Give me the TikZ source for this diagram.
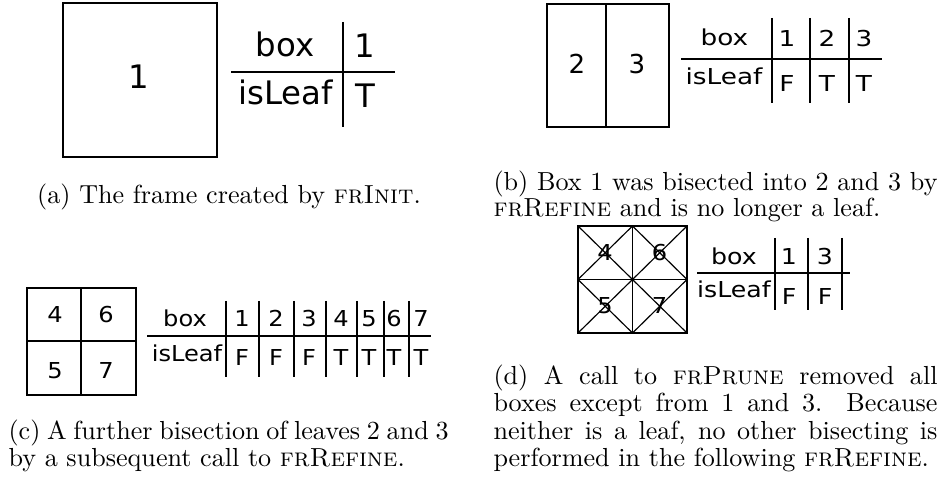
\documentclass[tikz,border=0pt]{standalone}
\usepackage{fontspec}
\usepackage{graphicx}
\newfontfamily\dvs{DejaVu Sans}
% horizontally widened label text
\newcommand\wide[2]{\scalebox{#1}[1]{#2}}

\begin{document}
\begin{tikzpicture}[x=0.3831pt,y=-0.3831pt,
  frame/.style={line width=0.75pt},
  rule/.style={line width=0.75pt},
  cross/.style={line width=0.45pt},
  lbl/.style={anchor=base,inner sep=0pt},
  fa/.style={font=\dvs\fontsize{12.4}{14}\selectfont},
  fbb/.style={font=\dvs\fontsize{10}{12}\selectfont},
  fs/.style={font=\dvs\fontsize{8.4}{10}\selectfont},
  capw/.style={anchor=base west,inner sep=0pt,font=\fontsize{10}{12}\selectfont},
  capc/.style={anchor=base,inner sep=0pt,font=\fontsize{10}{12}\selectfont}]
\useasboundingbox (0,0) rectangle (938,485);

% ---------- (a) initial frame ----------
\draw[frame] (63,3) rectangle (217,157);
\node[lbl,fa] (a1) at (139,89) {1};
\draw[rule] (231,72) -- (395,72);
\draw[rule] (343,22) -- (343,127);
\node[lbl,fa] (aboxh) at (285,57) {box};
\node[lbl,fa] (aleafh) at (285.5,105) {isLeaf};
\node[lbl,fa] (ab1) at (365,58) {1};
\node[lbl,fa] (al1) at (365,108) {T};
\node[capc] (capa) at (229,203.5) {(a) The frame created by \textsc{frInit}.};

% ---------- (b) first bisection ----------
\draw[frame] (547,4) rectangle (669,127);
\draw[frame] (606,4) -- (606,127);
\node[lbl,fbb] (b2) at (577,74) {2};
\node[lbl,fbb] (b3) at (637,74) {3};
\draw[rule] (681,59) -- (882,59);
\foreach \x in {772,810,849} \draw[rule] (\x,18) -- (\x,103);
\node[lbl,fs] (bboxh) at (724.5,46) {\wide{1.2}{box}};
\node[lbl,fs] (bleafh) at (724,85) {\wide{1.2}{isLeaf}};
\node[lbl,fs] (bb1) at (787,47) {\wide{1.2}{1}};
\node[lbl,fs] (bb2) at (827,47) {\wide{1.2}{2}};
\node[lbl,fs] (bb3) at (864,47) {\wide{1.2}{3}};
\node[lbl,fs] (bl1) at (787,92) {\wide{1.2}{F}};
\node[lbl,fs] (bl2) at (827,92) {\wide{1.2}{T}};
\node[lbl,fs] (bl3) at (864,92) {\wide{1.2}{T}};
\node[capw] (capb1) at (493,191) {\makebox[170.1pt][s]{(b) Box 1 was bisected into 2 and 3 by}};
\node[capw] (capb2) at (493,217) {\textsc{frRefine} and is no longer a leaf.};

% ---------- (c) second bisection ----------
\draw[frame] (27,288) rectangle (136,395);
\draw[frame] (81,288) -- (81,395);
\draw[frame] (26,341) -- (136,341);
\node[lbl,fs] (c4) at (55,323) {\wide{1.1}{4}};
\node[lbl,fs] (c6) at (106,323) {\wide{1.1}{6}};
\node[lbl,fs] (c5) at (55,378) {\wide{1.1}{5}};
\node[lbl,fs] (c7) at (106,378) {\wide{1.1}{7}};
\draw[rule] (147,336) -- (431,336);
\foreach \x in {226,259,294,326,357,384,409} \draw[rule] (\x,301) -- (\x,377);
\node[lbl,fs] (cboxh) at (185,327) {\wide{1.1}{box}};
\node[lbl,fs] (cleafh) at (187,361.5) {\wide{1.1}{isLeaf}};
\foreach \x/\v/\l [count=\i] in {242/1/F,276/2/F,309/3/F,341/4/T,369/5/T,394/6/T,421/7/T}{
  \node[lbl,fs] (cb\i) at (\x,327) {\wide{1.1}{\v}};
  \node[lbl,fs] (cl\i) at (\x,365) {\wide{1.1}{\l}};
}
\node[capw] (capc1) at (8,439) {\makebox[168.6pt][s]{(c) A further bisection of leaves 2 and 3}};
\node[capw] (capc2) at (8,466.5) {by a subsequent call to \textsc{frRefine}.};

% ---------- (d) after pruning ----------
\draw[frame] (578,226) rectangle (687,333);
\draw[frame] (632.5,226) -- (632.5,333);
\draw[frame] (578,279.5) -- (687,279.5);
\foreach \xa/\xb in {578/632.5,632.5/687}
  \foreach \ya/\yb in {226/279.5,279.5/333}{
    \draw[cross] (\xa,\ya) -- (\xb,\yb);
    \draw[cross] (\xa,\yb) -- (\xb,\ya);
  }
\node[lbl,fs] (d4) at (605,260.5) {\wide{1.1}{4}};
\node[lbl,fs] (d6) at (659.5,260.5) {\wide{1.1}{6}};
\node[lbl,fs] (d5) at (605,314) {\wide{1.1}{5}};
\node[lbl,fs] (d7) at (659.5,314) {\wide{1.1}{7}};
\draw[rule] (697,273) -- (850,273);
\foreach \x in {775,808,842} \draw[rule] (\x,238) -- (\x,310);
\node[lbl,fs] (dboxh) at (734,265) {\wide{1.15}{box}};
\node[lbl,fs] (dleafh) at (734,298) {\wide{1.15}{isLeaf}};
\node[lbl,fs] (db1) at (789,265) {\wide{1.15}{1}};
\node[lbl,fs] (db3) at (825,265) {\wide{1.15}{3}};
\node[lbl,fs] (dl1) at (789,305) {\wide{1.15}{F}};
\node[lbl,fs] (dl3) at (825,305) {\wide{1.15}{F}};
\node[capw] (capd1) at (493,384) {\makebox[170.1pt][s]{(d) A call to \textsc{frPrune} removed all}};
\node[capw] (capd2) at (493,411.5) {\makebox[170.1pt][s]{boxes except from 1 and 3. Because}};
\node[capw] (capd3) at (493,439) {\makebox[170.1pt][s]{neither is a leaf, no other bisecting is}};
\node[capw] (capd4) at (493,466.5) {performed in the following \textsc{frRefine}.};
\end{tikzpicture}
\end{document}
